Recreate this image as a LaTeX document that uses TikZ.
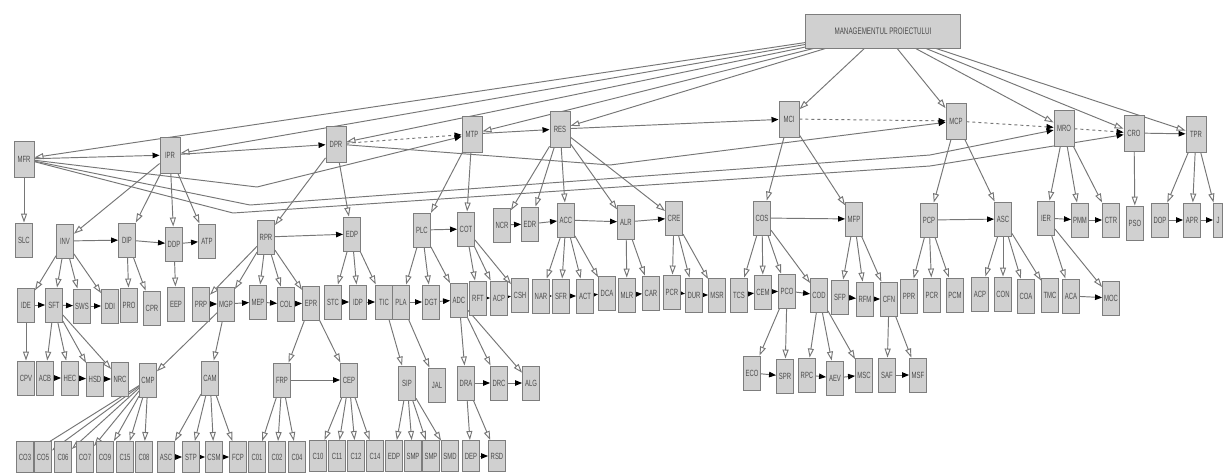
\documentclass[tikz,border=0pt]{standalone}
\usepackage{fontspec}
\setmainfont{Liberation Sans}
\newfontfamily\cond[FakeStretch=0.66]{Liberation Sans}
\usetikzlibrary{arrows.meta}
\pgfdeclarelayer{bg}
\pgfsetlayers{bg,main}
\definecolor{ln}{RGB}{118,118,118}
\definecolor{bf}{RGB}{208,208,208}
\definecolor{bd}{RGB}{125,125,125}
\definecolor{tx}{RGB}{75,75,75}
\tikzset{
  bx/.style={draw=bd, fill=bf, line width=0.9pt, minimum width=17pt, minimum height=34pt, inner sep=0pt, text=tx, font=\cond\fontsize{9}{9}\selectfont},
  bxl/.style={bx, minimum width=20pt, minimum height=36pt},
  bxs/.style={bx, minimum height=31pt},
  cn/.style={draw=ln, line width=0.95pt},
  op/.style={cn, -{Triangle[open, length=9pt, width=6pt, fill=white]}},
  bk/.style={cn, -{Triangle[length=7pt, width=5.5pt, black]}},
  dsh/.style={bk, dashed},
}
\begin{document}
\begin{tikzpicture}[x=1pt,y=-1pt]
\useasboundingbox (0,0) rectangle (1223,475);
% top
\node[bx, minimum width=155pt, minimum height=34pt, font=\cond\fontsize{9.5}{9.5}\selectfont] (mp) at (883,31) {MANAGEMENTUL PROIECTULUI};
% level 1
\node[bxl] (mfr) at (24,159) {MFR};
\node[bxl] (ipr) at (170,155) {IPR};
\node[bxl] (dpr) at (336,144) {DPR};
\node[bxl] (mtp) at (472,134) {MTP};
\node[bxl] (res) at (560,129) {RES};
\node[bxl] (mci) at (789,119) {MCI};
\node[bxl] (mcp) at (956,121) {MCP};
\node[bxl] (mro) at (1064,128) {MRO};
\node[bxl] (cro) at (1134,133) {CRO};
\node[bxl] (tpr) at (1196,134) {TPR};
% level 2
\node[bx] (slc) at (24,240) {SLC};
\node[bx] (inv) at (65,241) {INV};
\node[bx] (dip) at (127,240) {DIP};
\node[bx] (ddp) at (174,244) {DDP};
\node[bx] (atp) at (207,241) {ATP};
\node[bx] (rpr) at (266,237) {RPR};
\node[bx] (edp) at (352,234) {EDP};
\node[bx] (plc) at (422,230) {PLC};
\node[bx] (cot) at (466,229) {COT};
\node[bx] (ncr) at (502,225) {NCR};
\node[bx] (edr) at (530,224) {EDR};
\node[bx] (acc) at (566,220) {ACC};
\node[bx] (alr) at (626,222) {ALR};
\node[bx] (cre) at (674,218) {CRE};
\node[bx] (cos) at (762,218) {COS};
\node[bx] (mfp) at (854,219) {MFP};
\node[bx] (pcp) at (929,220) {PCP};
\node[bx] (asc) at (1003,219) {ASC};
\node[bx] (ier) at (1046,218) {IER};
\node[bx] (pmm) at (1080,220) {PMM};
\node[bx] (ctr) at (1111,220) {CTR};
\node[bx] (pso) at (1135,223) {PSO};
\node[bx] (dop) at (1160,220) {DOP};
\node[bx] (apr) at (1192,220) {APR};
\node[bx, minimum width=9pt] (jur) at (1218,220) {J};
% level 3
\node[bx] (ide) at (26,305) {IDE};
\node[bx] (sft) at (54,305) {SFT};
\node[bx] (sws) at (82,306) {SWS};
\node[bx] (ddi) at (110,306) {DDI};
\node[bx] (pro) at (129,305) {PRO};
\node[bx] (cpr) at (152,308) {CPR};
\node[bx] (eep) at (176,304) {EEP};
\node[bx] (prp) at (201,304) {PRP};
\node[bx] (mgp) at (226,304) {MGP};
\node[bx] (mep) at (258,302) {MEP};
\node[bx] (col) at (286,304) {COL};
\node[bx] (epr) at (311,303) {EPR};
\node[bx] (stc) at (333,302) {STC};
\node[bx] (idp) at (358,302) {IDP};
\node[bx] (tic) at (384,302) {TIC};
\node[bx] (pla) at (401,302) {PLA};
\node[bx] (dgt) at (431,302) {DGT};
\node[bx] (adc) at (459,300) {ADC};
\node[bx] (rft) at (478,298) {RFT};
\node[bx] (acp) at (499,298) {ACP};
\node[bx] (csh) at (520,295) {CSH};
\node[bx] (nar) at (541,296) {NAR};
\node[bx] (sfr) at (561,296) {SFR};
\node[bx] (act) at (585,296) {ACT};
\node[bx] (dca) at (607,293) {DCA};
\node[bx] (mlr) at (627,295) {MLR};
\node[bx] (car) at (651,293) {CAR};
\node[bx] (pcr) at (672,292) {PCR};
\node[bx] (dur) at (694,295) {DUR};
\node[bx] (msr) at (717,295) {MSR};
\node[bx] (tcs) at (739,295) {TCS};
\node[bx] (cem) at (763,292) {CEM};
\node[bx] (pco) at (787,291) {PCO};
\node[bx] (cod) at (819,295) {COD};
\node[bx] (sfp) at (840,297) {SFP};
\node[bx] (rfm) at (865,299) {RFM};
\node[bx] (cfn) at (889,299) {CFN};
\node[bx] (ppr) at (909,296) {PPR};
\node[bx] (pcrr) at (932,295) {PCR};
\node[bx] (pcm) at (955,295) {PCM};
\node[bx] (acpp) at (980,294) {ACP};
\node[bx] (con) at (1003,294) {CON};
\node[bx] (coa) at (1026,296) {COA};
\node[bx] (tmc) at (1050,295) {TMC};
\node[bx] (aca) at (1071,296) {ACA};
\node[bx] (moc) at (1111,298) {MOC};
% level 4
\node[bx] (cpv) at (26,378) {CPV};
\node[bx] (acb) at (45,378) {ACB};
\node[bx] (hec) at (70,378) {HEC};
\node[bx] (hsd) at (95,379) {HSD};
\node[bx] (nrc) at (120,379) {NRC};
\node[bx] (cmp) at (148,380) {CMP};
\node[bx] (cam) at (210,378) {CAM};
\node[bx] (frp) at (282,380) {FRP};
\node[bx] (cep) at (349,380) {CEP};
\node[bx] (sip) at (407,383) {SIP};
\node[bx] (jal) at (437,385) {JAL};
\node[bx] (dra) at (466,383) {DRA};
\node[bx] (drc) at (499,383) {DRC};
\node[bx] (alg) at (531,383) {ALG};
\node[bx] (eco) at (752,373) {ECO};
\node[bx] (spr) at (785,376) {SPR};
\node[bx] (rpc) at (807,375) {RPC};
\node[bx] (aev) at (835,378) {AEV};
\node[bx] (msc) at (864,375) {MSC};
\node[bx] (saf) at (887,375) {SAF};
\node[bx] (msf) at (918,375) {MSF};
% level 5
\node[bxs] (ca) at (25,457) {CO3};
\node[bxs] (cb) at (43,457) {CO5};
\node[bxs] (cc) at (63,457) {C06};
\node[bxs] (cd) at (85,457) {CO7};
\node[bxs] (ce) at (105,457) {CO9};
\node[bxs] (cf) at (125,457) {C15};
\node[bxs] (cg) at (144,457) {C08};
\node[bxs] (ascb) at (166,457) {ASC};
\node[bxs] (stp) at (191,457) {STP};
\node[bxs] (csm) at (214,457) {CSM};
\node[bxs] (fcp) at (238,457) {FCP};
\node[bxs] (c01) at (257,457) {C01};
\node[bxs] (c02) at (277,457) {C02};
\node[bxs] (c04) at (297,457) {C04};
\node[bxs] (c10) at (318,456) {C10};
\node[bxs] (c11) at (337,456) {C11};
\node[bxs] (c12) at (356,456) {C12};
\node[bxs] (c14) at (375,456) {C14};
\node[bxs] (edpb) at (394,456) {EDP};
\node[bxs] (smp) at (413,456) {SMP};
\node[bxs] (smpb) at (431,456) {SMP};
\node[bxs] (smd) at (450,456) {SMD};
\node[bxs] (dep) at (471,456) {DEP};
\node[bxs] (rsd) at (497,456) {RSD};
% bend points
\coordinate (k1) at (257,187);
\coordinate (ka) at (250,205);
\coordinate (ka2) at (930,155);
\coordinate (kb) at (233,213);
\coordinate (kb2) at (930,166);
\coordinate (kc) at (610,165);
\begin{pgfonlayer}{bg}
\fill[white] (0,0) rectangle (1223,475);
\foreach \a/\b in {mp/mfr,mp/ipr,mp/dpr,mp/mtp,mp/res,mp/mci,mp/mcp,mp/mro,mp/cro,mp/tpr,
  mfr/slc,ipr/inv,ipr/dip,ipr/ddp,ipr/atp,dpr/rpr,dpr/edp,mtp/plc,mtp/cot,
  res/ncr,res/edr,res/acc,res/alr,res/cre,mci/cos,mci/mfp,mcp/pcp,mcp/asc,
  mro/ier,mro/pmm,mro/ctr,cro/pso,tpr/dop,tpr/apr,tpr/jur,
  inv/ide,inv/sft,inv/sws,inv/ddi,dip/pro,dip/cpr,ddp/eep,
  rpr/prp,rpr/mgp,rpr/mep,rpr/col,rpr/epr,edp/stc,edp/idp,edp/tic,
  plc/pla,plc/dgt,plc/adc,cot/rft,cot/acp,cot/csh,
  acc/nar,acc/sfr,acc/act,acc/dca,alr/mlr,alr/car,cre/pcr,cre/dur,cre/msr,
  cos/tcs,cos/cem,cos/pco,cos/cod,mfp/sfp,mfp/rfm,mfp/cfn,
  pcp/ppr,pcp/pcrr,pcp/pcm,asc/acpp,asc/con,asc/coa,asc/tmc,ier/aca,ier/moc,
  ide/cpv,sft/acb,sft/hec,sft/hsd,sft/nrc,mgp/cmp,mgp/cam,epr/frp,epr/cep,
  tic/sip,pla/jal,adc/dra,adc/drc,adc/alg,pco/eco,pco/spr,cod/rpc,cod/aev,cod/msc,
  cfn/saf,cfn/msf,
  cmp/ca,cmp/cb,cmp/cc,cmp/cd,cmp/ce,cmp/cf,cmp/cg,
  cam/ascb,cam/stp,cam/csm,cam/fcp,frp/c01,frp/c02,frp/c04,
  cep/c10,cep/c11,cep/c12,cep/c14,sip/edpb,sip/smp,sip/smpb,sip/smd,dra/dep,dra/rsd}
  \draw[op] (\a) -- (\b);
\foreach \a/\b in {mfr/ipr,ipr/dpr,mtp/res,res/mci,cro/tpr,
  inv/dip,dip/ddp,ddp/atp,rpr/edp,plc/cot,ncr/edr,edr/acc,acc/alr,alr/cre,
  cos/mfp,pcp/asc,ier/pmm,pmm/ctr,dop/apr,apr/jur,
  ide/sft,sft/sws,sws/ddi,prp/mgp,mgp/mep,mep/col,col/epr,stc/idp,idp/tic,
  pla/dgt,dgt/adc,rft/acp,acp/csh,nar/sfr,sfr/act,act/dca,mlr/car,
  pcr/dur,dur/msr,tcs/cem,cem/pco,pco/cod,sfp/rfm,rfm/cfn,aca/moc,
  acb/hec,hec/hsd,hsd/nrc,frp/cep,dra/drc,drc/alg,eco/spr,rpc/aev,aev/msc,
  saf/msf,ascb/stp,stp/csm,csm/fcp,dep/rsd}
  \draw[bk] (\a) -- (\b);
\foreach \a/\b in {dpr/mtp,mci/mcp,mcp/mro,mro/cro}
  \draw[dsh] (\a) -- (\b);
\draw[bk] (mfr) -- (k1) -- (mtp);
\draw[bk] (mfr) -- (ka) -- (ka2) -- (mro);
\draw[bk] (mfr) -- (kb) -- (kb2) -- (cro);
\draw[bk] (dpr) -- (kc) -- (mcp);
\end{pgfonlayer}
\end{tikzpicture}
\end{document}
